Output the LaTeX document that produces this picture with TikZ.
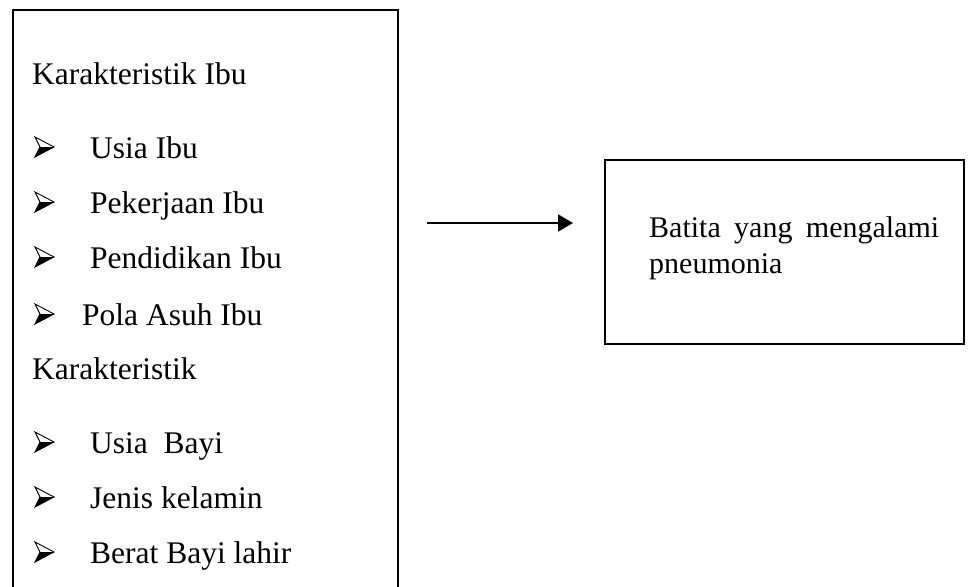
\documentclass[tikz,border=0pt]{standalone}
\usepackage{fontspec}
\setmainfont{Liberation Serif}
\usetikzlibrary{arrows.meta}
\begin{document}
\begin{tikzpicture}[x=1pt,y=-1pt,
  boxline/.style={draw=black,line width=1.8pt,inner sep=0pt,anchor=north west},
  lbl/.style={anchor=base west,inner sep=0pt,font=\fontsize{31.5}{38}\selectfont},
  conn/.style={line width=2pt,-{Triangle[length=15pt,width=17pt]}},
  arrbul/.pic={
    \fill[white] (0,-20) -- (19,-10) -- (5,-10) -- cycle;
    \fill[black] (5,-10) -- (19,-10) -- (0,0) -- cycle;
    \draw[black,line width=0.9pt,line join=miter] (0,-20) -- (19,-10) -- (0,0) -- (5,-10) -- cycle;
  }]
\useasboundingbox (0,0) rectangle (968,586);
\clip (0,0) rectangle (968,586);
% boxes
\node[boxline, minimum width=385pt, minimum height=620pt] (left) at (12,9) {};
\node[boxline, minimum width=359pt, minimum height=184pt] (right) at (604,159) {};
% left texts
\node[lbl] (h1) at (32,84) {Karakteristik Ibu};
\pic at (35,157) {arrbul};
\node[lbl] (i1) at (90,158) {Usia Ibu};
\pic at (35,212) {arrbul};
\node[lbl] (i2) at (90,213) {Pekerjaan Ibu};
\pic at (35,267) {arrbul};
\node[lbl] (i3) at (90,268) {Pendidikan Ibu};
\pic at (35,324) {arrbul};
\node[lbl] (i4) at (82,325) {Pola Asuh Ibu};
\node[lbl] (h2) at (32,379) {Karakteristik};
\pic at (35,452) {arrbul};
\node[lbl] (i5) at (90,453) {Usia\ \ Bayi};
\pic at (35,507) {arrbul};
\node[lbl] (i6) at (90,508) {Jenis kelamin};
\pic at (35,562) {arrbul};
\node[lbl] (i7) at (90,563) {Berat Bayi lahir};
% right text
\node[anchor=base west, inner sep=0pt, text width=290pt, align=justify,
      font=\fontsize{30}{36}\selectfont] (rt) at (649,237)
  {\tolerance=10000\hyphenpenalty=10000 Batita yang mengalami pneumonia};
% connector
\coordinate (ay) at (500,223);
\draw[conn, shorten <=28pt, shorten >=31pt] (left.east |- ay) -- (right.west |- ay);
\end{tikzpicture}
\end{document}
